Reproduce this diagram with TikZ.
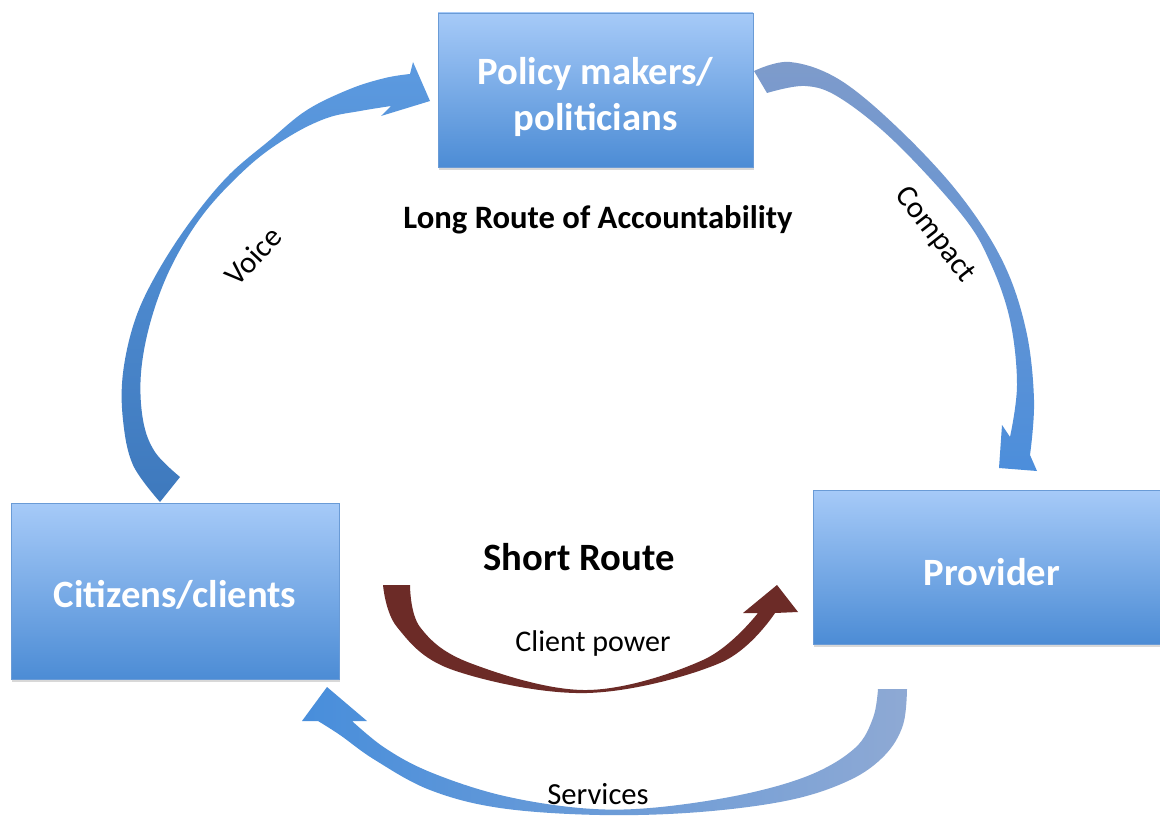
\documentclass[tikz,border=0pt]{standalone}
\usepackage{fontspec}
\setmainfont{Carlito}
\usetikzlibrary{shadows}
\definecolor{boxtop}{HTML}{A6CAF8}
\definecolor{boxbot}{HTML}{4C8CD5}
\definecolor{boxedge}{HTML}{6A9BD6}
\definecolor{redarrow}{HTML}{6C2B27}
\definecolor{voicetop}{HTML}{5C9AE0}
\definecolor{voicebot}{HTML}{3E79BD}
\definecolor{comptop}{HTML}{7E9BCB}
\definecolor{compbot}{HTML}{4C8EDB}
\definecolor{servleft}{HTML}{488EDB}
\definecolor{servright}{HTML}{8EA9D4}
\begin{document}
\begin{tikzpicture}[x=0.75pt,y=-0.75pt,
  box/.style={rectangle, draw=boxedge, line width=0.6pt, top color=boxtop, bottom color=boxbot,
    inner sep=0pt, drop shadow={shadow xshift=1pt, shadow yshift=-2pt, opacity=0.3}},
  boxtext/.style={text=white, font=\bfseries\fontsize{29}{34.5}\selectfont, align=center, inner sep=0pt},
  lbl/.style={text=black, inner sep=1pt, font=\fontsize{23}{28}\selectfont},
  blbl/.style={text=black, inner sep=1pt, font=\bfseries\fontsize{24.5}{29}\selectfont}]
\clip (0,0) rectangle (1160,817);
\fill[white] (0,0) rectangle (1160,817);

% boxes
\node[box, minimum width=236.25pt, minimum height=115.5pt] (policy) at (595.5,90) {};
\node[box, minimum width=246pt, minimum height=132pt] (citizens) at (175,591) {};
\node[box, minimum width=268.5pt, minimum height=115.5pt] (provider) at (992,567) {};
\node[boxtext] (policyT) at ([yshift=-5pt]policy.center) {Policy makers/\\politicians};
\node[boxtext] (citizensT) at ([yshift=-3pt]citizens.center) {Citizens/clients};
\node[boxtext] (providerT) at ([yshift=-4pt]provider.center) {Provider};

% Voice arrow
\shade[top color=voicetop, bottom color=voicebot]
  plot[smooth, tension=0.6] coordinates {(160,502) (133,465) (123,420) (123,373) (135,320) (157,273) (190,222) (228,176) (270,140) (307,110) (350,89) (385,78) (410,74)}
  -- (413,62) -- (430,101) -- (381,116) -- (391,106)
  -- plot[smooth, tension=0.6] coordinates {(391,106) (360,111) (327,118) (290,136) (250,165) (205,212) (172,265) (151,320) (141,373) (143,420) (155,452) (180,477)}
  -- cycle;

% Compact arrow
\shade[top color=comptop, bottom color=compbot]
  plot[smooth, tension=0.6] coordinates {(754,71) (790,62) (840,80) (900,130) (960,195) (1003,262) (1026,330) (1034,400) (1030,455)}
  -- (1037,471) -- (999,468) -- (1002,425) -- (1010,437)
  -- plot[smooth, tension=0.6] coordinates {(1010,437) (1017,385) (1010,320) (990,262) (962,215) (895,142) (840,98) (805,86) (767,93)}
  -- cycle;

% Services arrow
\shade[left color=servleft, right color=servright]
  plot[smooth, tension=0.6] coordinates {(907,689) (903,725) (885,755) (850,780) (790,800) (700,812) (600,815) (500,808) (430,790) (375,760) (340,735) (318,721)}
  -- (302,721) -- (327,687) -- (367,721) -- (352,721)
  -- plot[smooth, tension=0.6] coordinates {(352,721) (385,748) (430,772) (500,795) (580,808) (650,808) (740,795) (810,775) (855,748) (873,718) (878,689)}
  -- cycle;

% Client power arrow
\fill[redarrow]
  plot[smooth, tension=0.6] coordinates {(383,585) (397,627) (453,670) (587,693) (720,663) (775,613)}
  -- (798,612) -- (777,585) -- (743,613) -- (758,613)
  -- plot[smooth, tension=0.6] coordinates {(758,613) (703,660) (587,690) (470,663) (420,627) (410,585)}
  -- cycle;

% labels
\node[blbl] (long) at (598,220) {Long Route of Accountability};
\node[blbl, font=\bfseries\fontsize{29}{35}\selectfont] (short) at (579,557) {Short Route};
\node[lbl, font=\fontsize{22.5}{28}\selectfont] (clientp) at (593,643) {Client power};
\node[lbl] (services) at (598,794) {Services};
\node[lbl, rotate=47] (voice) at (253,256) {Voice};
\node[lbl, rotate=-52] (compact) at (935,235) {Compact};
\end{tikzpicture}
\end{document}
